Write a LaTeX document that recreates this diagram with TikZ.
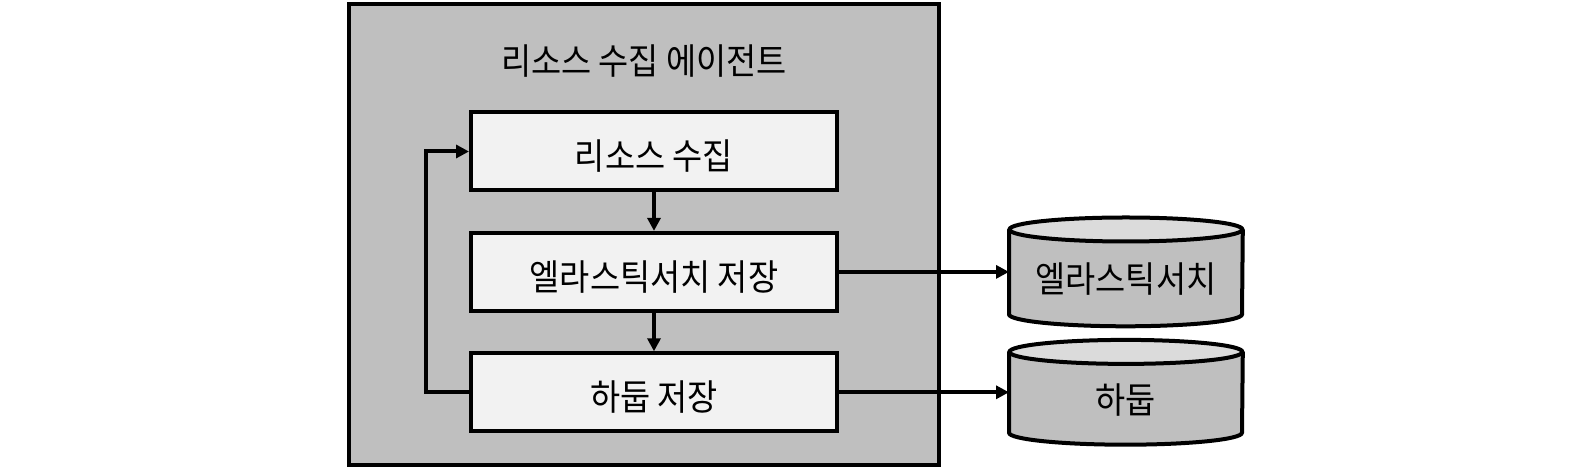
\documentclass[tikz,border=0pt]{standalone}
\usepackage{fontspec}
\setmainfont[FakeStretch=0.91]{Noto Sans CJK KR}
\usetikzlibrary{arrows.meta,positioning,calc}
\definecolor{agentgray}{HTML}{BFBFBF}
\definecolor{stepfill}{HTML}{F2F2F2}
\definecolor{dbtop}{HTML}{DBDBDB}
\pgfdeclarelayer{bg}
\pgfsetlayers{bg,main}
% cylinder drawn round a named db node
\newcommand\dbdraw[1]{%
  \draw[line width=2pt,fill=agentgray] ($(#1.north west)+(0,-6)$)
    -- ($(#1.south west)+(0,6)$) arc[start angle=180,end angle=360,x radius=58.25,y radius=6]
    -- ($(#1.north east)+(0,-6)$);
  \draw[line width=2pt,fill=dbtop] ($(#1.north)+(0,-6)$) ellipse[x radius=58.25,y radius=6];}

\begin{document}
\begin{tikzpicture}[x=1pt,y=1pt,>={Triangle[length=6.5pt,width=6.5pt]},
  font=\fontsize{18}{21}\selectfont,node distance=19.2pt and 85pt,
  agent/.style={draw,line width=2pt,fill=agentgray,minimum width=295pt,
    minimum height=230.5pt,inner sep=0pt},
  stepbox/.style={draw,line width=2pt,fill=stepfill,minimum width=183pt,
    minimum height=39pt,inner sep=0pt,text height=21.5pt,text depth=3pt},
  db/.style={minimum width=116.5pt,inner sep=0pt,text height=24pt,text depth=3pt},
  arr/.style={->,line width=2pt}]
\useasboundingbox (0,0) rectangle (793.5,-234.5);
\node[agent] (agent) at (322,-117.25) {};
\node (title) at (322,-30.5) {리소스 수집 에이전트};
\node[stepbox] (collect) at (327,-75.75) {리소스 수집};
\node[stepbox,below=of collect] (essave) {엘라스틱서치 저장};
\node[stepbox,below=of essave] (hdsave) {하둡 저장};
\node[db,minimum height=54pt,right=of essave] (es) {엘라스틱서치};
\node[db,minimum height=52pt,right=of hdsave] (hd) {하둡};
\begin{pgfonlayer}{bg}
\dbdraw{es}
\dbdraw{hd}
\end{pgfonlayer}
\draw[arr] (collect)--(essave);
\draw[arr] (essave)--(hdsave);
\draw[arr] (essave)--(es);
\draw[arr] (hdsave)--(hd);
\draw[arr] (hdsave.west)--++(-21.5,0) |- (collect.west);
\end{tikzpicture}
\end{document}
